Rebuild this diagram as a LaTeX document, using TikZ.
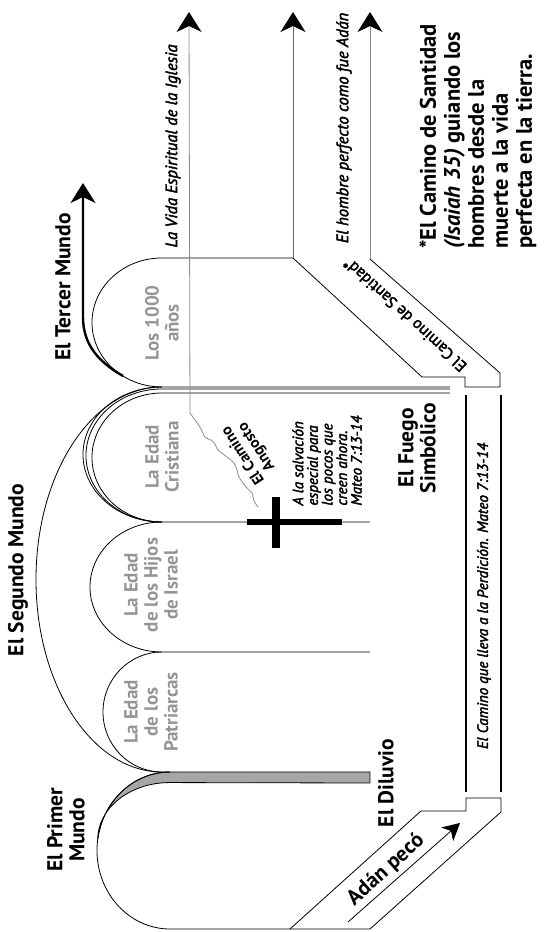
\documentclass[tikz,border=0pt]{standalone}
\usepackage{fontspec}
\setmainfont{PT Sans}
\newfontfamily\wayfont{PT Sans}[FakeBold=2.5]
\usetikzlibrary{arrows.meta}

\begin{document}
\begin{tikzpicture}[x=1pt,y=1pt,line width=0.8pt,
  world/.style={font=\bfseries\fontsize{21.5}{22}\selectfont,align=center,inner sep=0pt},
  age/.style={text=black!42,font=\bfseries\fontsize{19}{20}\selectfont,align=center,inner sep=0pt},
  way/.style={font=\wayfont\itshape\fontsize{16.5}{16}\selectfont,inner sep=0pt},
  tip/.style={-{Stealth[length=20pt,width=25pt,inset=6pt,black]}},
  smalltip/.style={-{Stealth[length=17pt,width=18pt,inset=5pt]}}]
\begin{scope}[rotate=90,transform shape]
\useasboundingbox (0,0) rectangle (932,546);
% el primer mundo
\filldraw[fill=black!35] (160,176) -- (160,376) arc[start angle=0,end angle=82,x radius=78.5,y radius=73]
  arc[start angle=90,end angle=0,x radius=57,y radius=72] -- (149,176) -- cycle;
\draw (3,176) -- (3,376) arc[start angle=180,end angle=0,x radius=78.5,y radius=73];
% el segundo mundo
\draw (160,376) -- (160,384) arc[start angle=180,end angle=0,x radius=192.5,y radius=126] -- (545,96);
\draw (160,384) arc[start angle=180,end angle=0,x radius=60,y radius=59] -- (280,176);
\draw (280,384) arc[start angle=180,end angle=0,x radius=65,y radius=72] -- (410,176);
\draw (410,384) arc[start angle=180,end angle=0,x radius=67.5,y radius=79];
\draw (410,384) arc[start angle=180,end angle=0,x radius=66.5,y radius=76] -- (543,96);
\draw (410,384) arc[start angle=180,end angle=0,x radius=64.5,y radius=70] -- (539,96);
% la cruz
\draw[line width=6pt] (410,204) -- (410,299);
\draw[line width=8pt] (384,270) -- (435,270);
% el tercer mundo
\draw (545,384) arc[start angle=180,end angle=0,x radius=64.5,y radius=70] -- (674,253);
\draw[line width=2.4pt,tip] (556,423) to[out=60,in=180] (615,463) -- (749,463);
% los caminos
\draw[line width=1.6pt] (140,80) -- (537,80) (140,45) -- (537,45);
\draw (3,256) -- (121,125) -- (121,80) -- (134,80) -- (134,45) -- (120,45) -- (3,176);
\draw (674,253) -- (555,124) -- (555,81) -- (545,81) -- (545,46) -- (559,46) -- (673,176);
\draw[smalltip] (10,198) -- (109,86);
\draw[black!60,tip] (674,253) -- (920,253);
\draw[black!45,tip] (673,176) -- (920,176);
\draw[black!45,tip] plot[smooth] coordinates {(425,288) (431,292) (439,294) (445,300) (455,307) (462,309)
  (469,312) (475,319) (482,328) (488,331) (492,335) (495,341) (505,346) (512,351) (519,356)} -- (920,357);
% textos
\node[world] (primer) at (102,480) {El Primer\\Mundo};
\node[world] (diluvio) at (149,160) {El Diluvio};
\node[world,rotate=-48] (pecado) at (62,160) {Adán pecó};
\node[world] (segundo) at (362,528) {El Segundo Mundo};
\node[age] (patriarcas) at (220,395) {La Edad\\de los\\Patriarcas};
\node[age] (israel) at (347,395) {La Edad\\de los Hijos\\de Israel};
\node[age] (cristiana) at (475,384) {La Edad\\Cristiana};
\node[age] (milenio) at (609,384) {Los 1000\\años};
\node[world] (tercero) at (645,483) {El Tercer Mundo};
\node[world] (fuego) at (484,129) {El Fuego\\Simbólico};
\node[way] (iglesia) at (786,373) {La Vida Espiritual de la Iglesia};
\node[way] (hombre) at (804,202) {El hombre perfecto como fue Adán};
\node[way,font=\wayfont\itshape\fontsize{15}{15}\selectfont] (perdicion) at (336,62) {El Camino que lleva a la Perdición. Mateo 7:13-14};
\node[way,font=\wayfont\fontsize{16}{16}\selectfont,rotate=47.6] (santidad) at (617,141) {El Camino de Santidad*};
\node[world,font=\bfseries\fontsize{15.5}{16}\selectfont,rotate=33] (angosto) at (481,296) {El Camino\\Angosto};
\node[way,font=\wayfont\itshape\fontsize{15}{14.6}\selectfont,align=left,anchor=north west] (salvacion) at (426,254)
  {A la salvación\\especial para\\los pocos que\\creen ahora.\\Mateo 7:13-14};
\node[world,font=\bfseries\fontsize{22.5}{24}\selectfont,align=left,anchor=north west] (nota) at (683,127)
  {*El Camino de Santidad\\\textit{(Isaiah 35)} guiando los\\hombres desde la\\muerte a la vida\\perfecta en la tierra.};
\end{scope}
\end{tikzpicture}
\end{document}
